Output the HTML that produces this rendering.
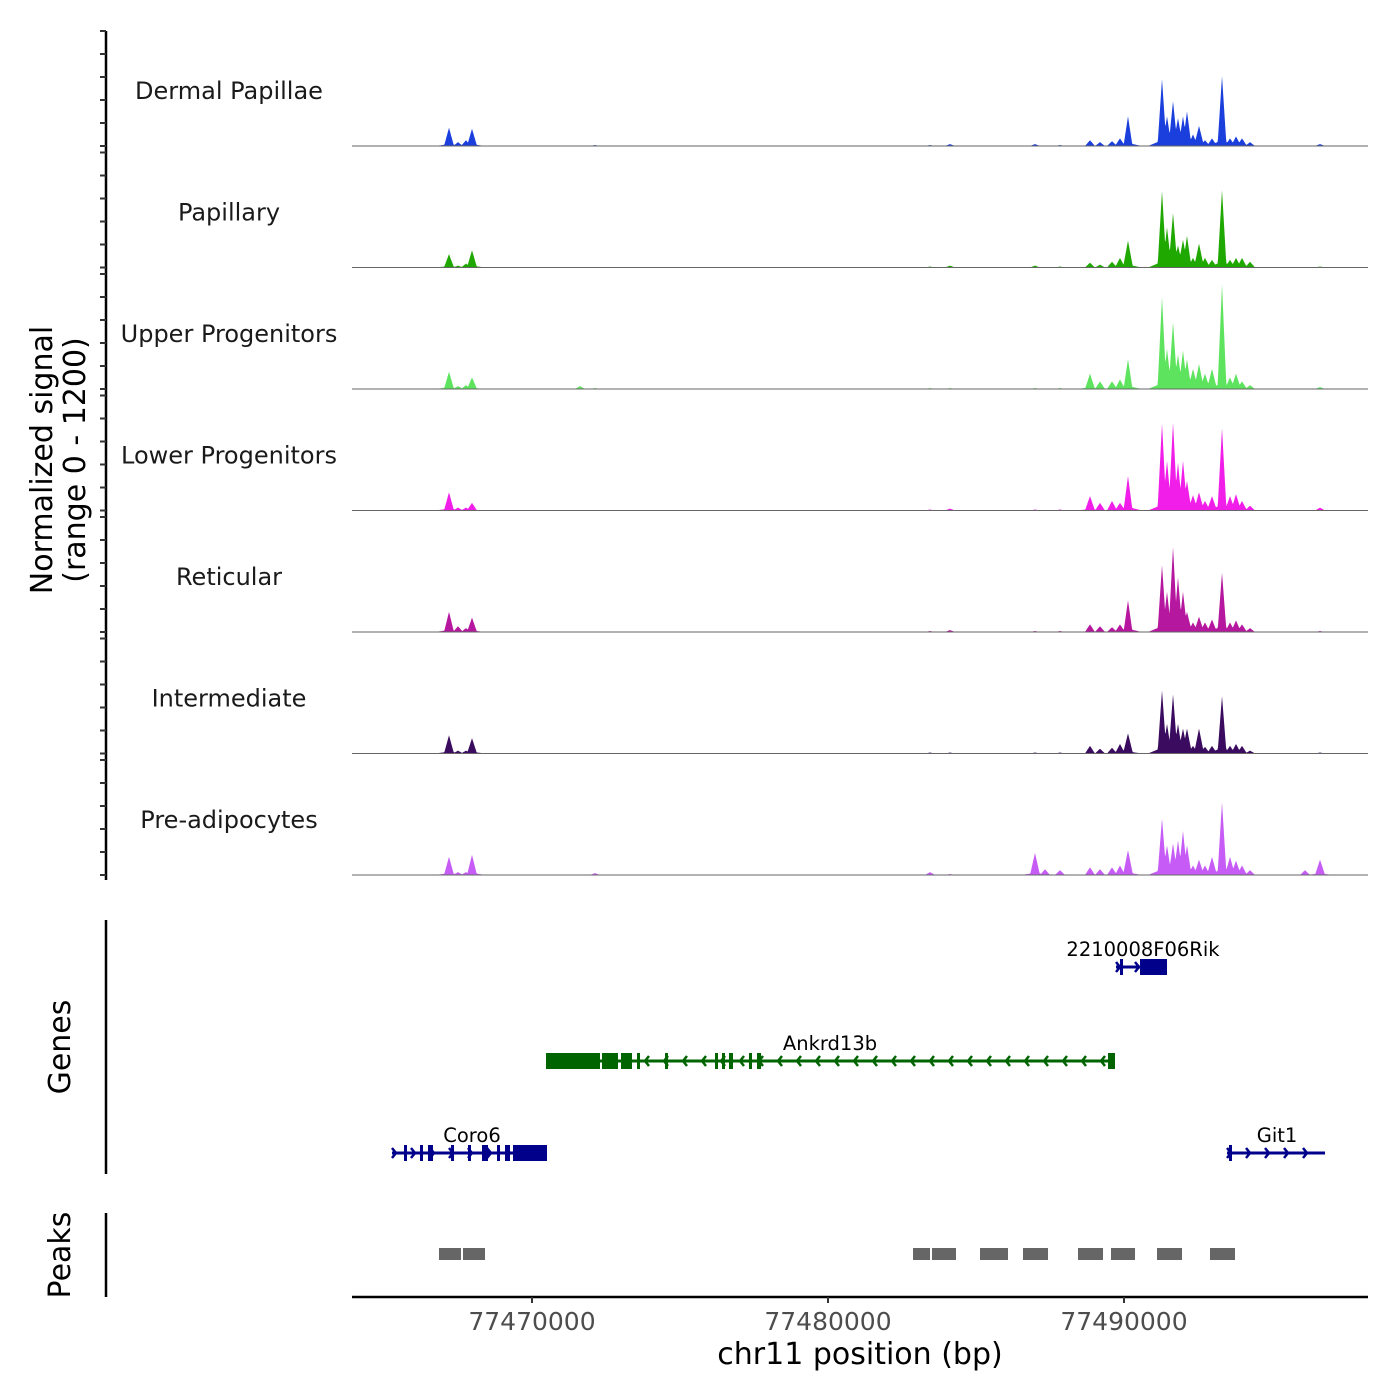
<!DOCTYPE html>
<html><head><meta charset="utf-8"><style>
body{margin:0;background:#fff}
svg{display:block;font-family:"DejaVu Sans","Liberation Sans",sans-serif}
</style></head><body>
<svg id="chart" width="1400" height="1400" viewBox="0 0 1400 1400"></svg>
<script>
const positions=[77467196,77467500,77467770,77467973,77471622,77472128,77483446,77484122,77486993,77487331,77487838,77488851,77489189,77489595,77489865,77490135,77491284,77491453,77491656,77491824,77491993,77492128,77492331,77492534,77492736,77492973,77493311,77493581,77493784,77493986,77494257,77496115,77496622];
const trackNames=["Dermal Papillae","Papillary","Upper Progenitors","Lower Progenitors","Reticular","Intermediate","Pre-adipocytes"];
const trackColors=["#1a3fdc","#1fa800","#5ee35e","#f01ee8","#b5179e","#3a0b5e","#c65cf5"];
const sigDP=[190,40,60,180,0,10,10,20,20,0,10,60,40,50,80,310,700,310,470,290,310,360,120,210,60,80,730,80,100,80,40,0,20];
const sigPap=[140,20,40,180,0,0,10,20,20,0,10,50,30,60,100,280,800,420,570,230,290,330,100,250,100,80,810,80,100,100,60,0,10];
const sigUpper=[180,30,40,120,30,10,10,10,10,0,10,160,80,80,100,310,960,420,700,360,400,310,210,260,160,210,1090,120,160,80,40,0,20];
const sigLower=[190,30,30,80,0,0,10,20,10,0,10,150,80,100,80,360,910,520,920,500,520,310,160,190,100,150,860,150,170,100,50,0,30];
const sigRet=[210,60,40,150,0,0,10,20,10,0,10,80,60,50,80,330,700,420,890,570,420,210,100,160,100,130,620,100,120,80,40,0,10];
const sigInt=[190,30,30,160,0,0,10,10,10,0,10,80,50,60,100,210,660,310,620,310,260,260,80,260,70,80,600,80,100,80,30,0,10];
const sigPre=[190,30,30,210,0,20,30,10,230,60,50,80,60,80,100,260,590,310,330,360,460,310,100,160,100,190,760,190,150,100,50,50,160];
const xTicks=[77470000,77480000,77490000];
const xTickLabels=["77470000","77480000","77490000"];
const genes=[
 {name:"Coro6",start:77465270,end:77470507,strand:1,row:2,color:"#00008b",lx:472,exons:[[77465676,77465777],[77466216,77466318],[77466486,77466655],[77467264,77467365],[77467838,77467939],[77468311,77468514],[77468818,77468919],[77469088,77469257],[77469358,77470507]]},
 {name:"Ankrd13b",start:77470473,end:77489696,strand:-1,row:1,color:"#006400",lx:830,exons:[[77470473,77472297],[77472365,77472905],[77473007,77473378],[77473547,77473649],[77474493,77474595],[77476182,77476284],[77476419,77476520],[77476655,77476791],[77477331,77477432],[77477601,77477737],[77489460,77489696]]},
 {name:"2210008F06Rik",start:77489730,end:77491453,strand:1,row:0,color:"#00008b",lx:1143,exons:[[77489865,77489966],[77490541,77491453]]},
 {name:"Git1",start:77493480,end:77496791,strand:1,row:2,color:"#00008b",lx:1277,exons:[[77493547,77493615]]}
];
const peakStarts=[77466858,77467669,77482872,77483514,77485135,77486588,77488446,77489561,77491115,77492905];
const peakEnds=[77467601,77468412,77483446,77484324,77486081,77487433,77489291,77490372,77491960,77493750];

const NS="http://www.w3.org/2000/svg";
const svg=document.getElementById("chart");
const X0=352,X1=1368,BP0=77463919,BP1=77498243;
const xs=bp=>X0+(bp-BP0)/(BP1-BP0)*(X1-X0);
function el(tag,attrs,parent){const e=document.createElementNS(NS,tag);for(const k in attrs)e.setAttribute(k,attrs[k]);(parent||svg).appendChild(e);return e;}
function txt(s,attrs){const t=el("text",attrs);t.textContent=s;return t;}

const series=[sigDP,sigPap,sigUpper,sigLower,sigRet,sigInt,sigPre];
const trackTop=31,trackStep=121.5,trackH=115,YMAX=1200;
const ax=el("line",{x1:106,y1:31,x2:106,y2:880,stroke:"#000","stroke-width":2.5});


series.forEach((vals,i)=>{
  const top=trackTop+i*trackStep, base=top+trackH;
  const ys=v=>base-Math.min(v,YMAX)/YMAX*trackH;
  for(let k=0;k<=5;k++){
    const y=top+k*trackH/5;
    const t=el("line",{x1:100,y1:y,x2:106,y2:y,stroke:"#333","stroke-width":2});
    
    
  }
  const g=el("g",{});
  
  
  let d="M"+X0+","+base;
  for(let px=X0;px<=X1;px+=0.5){
    let v=0,bg=0;
    positions.forEach((p,j)=>{
      const dx=Math.abs(px-xs(p));
      const w=vals[j]>300?4.5:5;
      if(dx<w)v=Math.max(v,vals[j]*(1-dx/w));
      if(dx<14)bg=Math.max(bg,Math.min(vals[j],600)*0.1*(1-dx/14));
    });
    d+=" L"+px+","+ys(Math.max(v,bg)).toFixed(2);
  }
  d+=" L"+X1+","+base+" Z";
  const area=el("path",{d:d,fill:trackColors[i]},g);
  
  
  const bl=el("line",{x1:X0,y1:base,x2:X1,y2:base,stroke:"#666","stroke-width":1},g);
  
  
  const lab=txt(trackNames[i],{x:229,y:base-47,"text-anchor":"middle","font-size":24,fill:"#1a1a1a"});
  
  
});
const yt=txt("Normalized signal",{x:0,y:0,"font-size":30,"text-anchor":"middle",transform:"translate(52,460) rotate(-90)"});


const yt2=txt("(range 0 - 1200)",{x:0,y:0,"font-size":30,"text-anchor":"middle",transform:"translate(85,460) rotate(-90)"});



const ga=el("line",{x1:106,y1:920,x2:106,y2:1174,stroke:"#000","stroke-width":2.5});


const gt=txt("Genes",{x:0,y:0,"font-size":30,"text-anchor":"middle",transform:"translate(70,1047) rotate(-90)"});


const rowY=[967,1061,1153];
genes.forEach(gn=>{
  const y=rowY[gn.row];
  const g=el("g",{});
  
  
  el("line",{x1:xs(gn.start),y1:y,x2:xs(gn.end),y2:y,stroke:gn.color,"stroke-width":3},g);
  const a=xs(gn.start),b=xs(gn.end);
  for(let x=a+4;x<b-2;x+=19){
    const s=gn.strand;
    el("polyline",{points:`${x-4*s},${y-5} ${x},${y} ${x-4*s},${y+5}`,fill:"none",stroke:gn.color,"stroke-width":2.5},g);
  }
  gn.exons.forEach(e=>{
    const x1=xs(e[0]),x2=Math.max(xs(e[1]),x1+3);
    const r=el("rect",{x:x1,y:y-8,width:x2-x1,height:16,fill:gn.color},g);
    
    
  });
  const t=txt(gn.name,{x:gn.lx,y:y-11,"text-anchor":"middle","font-size":19.5,fill:"#000"});
  
  
});

const pa=el("line",{x1:106,y1:1213,x2:106,y2:1297,stroke:"#000","stroke-width":2.5});


const pt=txt("Peaks",{x:0,y:0,"font-size":30,"text-anchor":"middle",transform:"translate(70,1255) rotate(-90)"});


peakStarts.forEach((s,i)=>{
  const r=el("rect",{x:xs(s),y:1248,width:xs(peakEnds[i])-xs(s),height:12,fill:"#666"});
  
  
});

const xa=el("line",{x1:X0,y1:1297,x2:X1,y2:1297,stroke:"#000","stroke-width":2.5});


xTicks.forEach((t,i)=>{
  const x=xs(t);
  const tk=el("line",{x1:x,y1:1297,x2:x,y2:1303,stroke:"#333","stroke-width":2});
  
  
  const l=txt(xTickLabels[i],{x:x,y:1330,"text-anchor":"middle","font-size":25,fill:"#4d4d4d"});
  
  
});
const xt=txt("chr11 position (bp)",{x:860,y:1364,"text-anchor":"middle","font-size":30});


</script>
</body></html>
